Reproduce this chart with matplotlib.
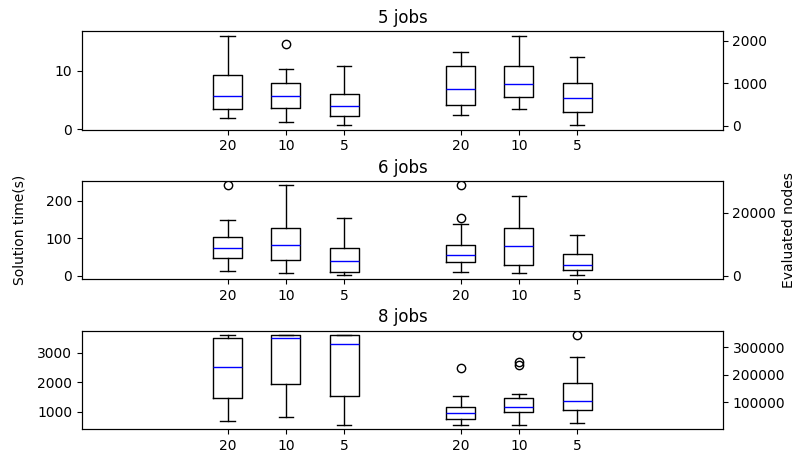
import matplotlib.pyplot as plt

# tiempos (izquierda) y nodos evaluados (derecha) por numero de trabajos
titulos = ["5 jobs", "6 jobs", "8 jobs"]
etiquetas = ["20", "10", "5"]

# estadisticos de cada caja: whislo, q1, med, q3, whishi, fliers
tiempo_5 = [
    [1.86, 3.4, 5.6, 9.3, 16.0, []],
    [1.24, 3.6, 5.6, 7.9, 10.3, [14.6]],
    [0.68, 2.2, 3.95, 6.05, 10.85, []],
]
nodos_5 = [
    [256, 498, 870, 1395, 1737, []],
    [388, 674, 986, 1395, 2116, []],
    [16, 312, 644, 993, 1605, []],
]
tiempo_6 = [
    [14.1, 46.9, 74.3, 102.6, 148.5, [241]],
    [8.8, 43.3, 81.4, 128, 241, []],
    [2.7, 11.5, 39.8, 73.5, 154.7, []],
]
nodos_6 = [
    [1257, 4300, 6500, 9640, 16430, [18220, 28690]],
    [1050, 3560, 9530, 15080, 25450, []],
    [310, 1890, 3460, 6820, 13100, []],
]
tiempo_8 = [
    [687, 1471, 2515, 3492, 3600, []],
    [822, 1943, 3492, 3600, 3600, []],
    [562, 1539, 3313, 3600, 3600, []],
]
nodos_8 = [
    [17500, 38200, 58900, 81800, 122900, [224700]],
    [17500, 62500, 82900, 115600, 130200, [235600, 248000]],
    [23600, 69800, 102500, 168000, 266200, [344700]],
]

datos = [(tiempo_5, nodos_5), (tiempo_6, nodos_6), (tiempo_8, nodos_8)]

pos_izq = [3, 4, 5]
pos_der = [7, 8, 9]


def cajas(filas):
    stats = []
    for lo, q1, med, q3, hi, out in filas:
        stats.append({"whislo": lo, "q1": q1, "med": med, "q3": q3,
                      "whishi": hi, "fliers": out})
    return stats


fig, axs = plt.subplots(3, 1, figsize=(7.96, 4.57), dpi=100)
fig.subplots_adjust(left=0.103, right=0.908, top=0.932, bottom=0.061, hspace=0.52)

for ax, titulo, (tiempo, nodos) in zip(axs, titulos, datos):
    ax2 = ax.twinx()
    ax.bxp(cajas(tiempo), positions=pos_izq, widths=0.5,
           medianprops=dict(color="blue"))
    ax2.bxp(cajas(nodos), positions=pos_der, widths=0.5,
            medianprops=dict(color="blue"))
    ax.set_xlim(0.5, 11.5)
    ax.set_xticks(pos_izq + pos_der)
    ax.set_xticklabels(etiquetas + etiquetas)
    ax.set_title(titulo)
    if titulo == "6 jobs":
        ax.set_ylabel("Solution time(s)", labelpad=14)
        ax2.set_ylabel("Evaluated nodes")

plt.savefig("out.png")
